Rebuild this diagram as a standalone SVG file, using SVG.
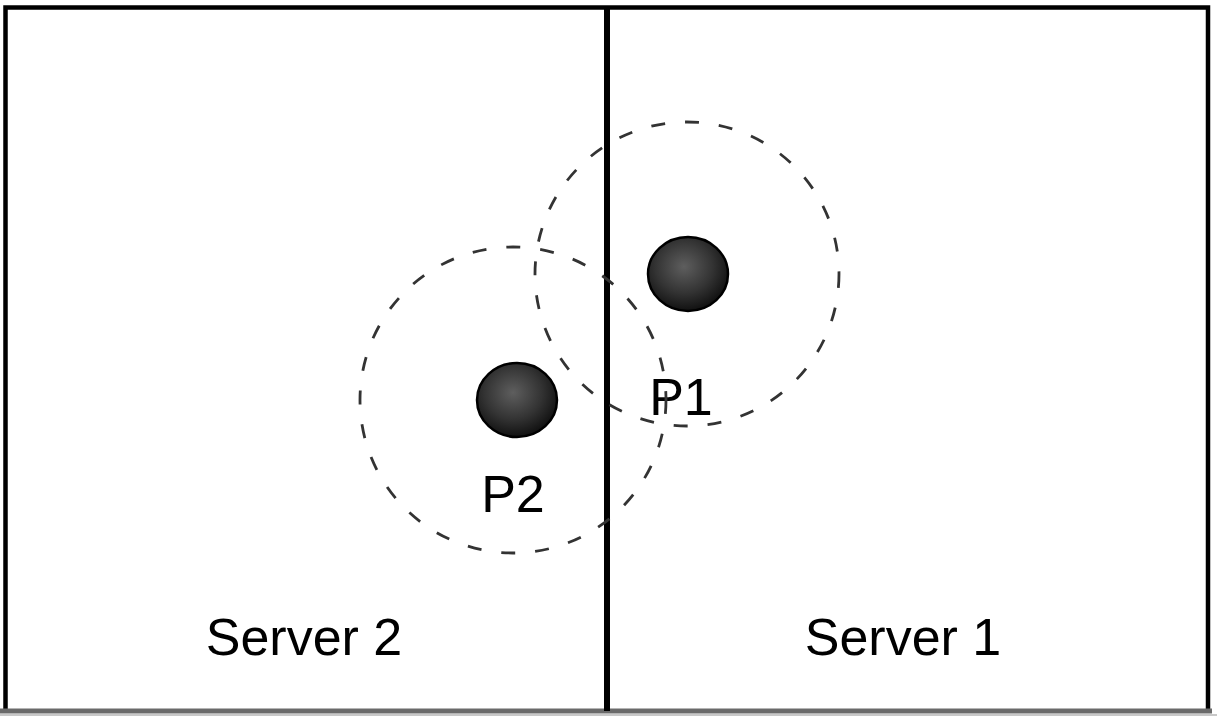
<svg xmlns="http://www.w3.org/2000/svg" width="1217" height="725" viewBox="0 0 1217 725">
  <defs>
    <radialGradient id="ball" cx="45%" cy="40%" r="60%">
      <stop offset="0" stop-color="#5e5e5e"/>
      <stop offset="0.6" stop-color="#333"/>
      <stop offset="1" stop-color="#111"/>
    </radialGradient>
  </defs>
  <style>
    .border { stroke: #000; stroke-width: 4.5; fill: none; }
    .divider { stroke: #000; stroke-width: 6; }
    .range { fill: none; stroke: #333; stroke-width: 2.8; stroke-dasharray: 14 20; }
    .dot { fill: url(#ball); stroke: #000; stroke-width: 2.5; }
    .label { font-family: "Liberation Sans", Arial, sans-serif; font-size: 52px; fill: #000; text-anchor: middle; }
  </style>
  <rect x="0" y="0" width="1217" height="725" fill="#fff"/>
  <g id="frame">
    <polyline class="border" points="5.5,711 5.5,7.5 1208,7.5 1208,711"/>
    <line x1="0" y1="711" x2="1212" y2="711" stroke="#6a6a6a" stroke-width="5"/>
    <line x1="0" y1="715" x2="1217" y2="715" stroke="#c8c8c8" stroke-width="2"/>
  </g>
  <g id="divider">
    <line class="divider" x1="607" y1="6" x2="607" y2="711"/>
  </g>
  <g id="server2">
    <text class="label" x="304" y="655">Server 2</text>
  </g>
  <g id="server1">
    <text class="label" x="903" y="655">Server 1</text>
  </g>
  <g id="connectors"></g>
  <g id="p1">
    <circle class="range" cx="687" cy="274" r="152"/>
    <ellipse class="dot" cx="688" cy="274" rx="40" ry="37"/>
    <text class="label" x="681" y="415" fill="#111">P1</text>
  </g>
  <g id="p2">
    <circle class="range" cx="513" cy="400" r="153"/>
    <ellipse class="dot" cx="517" cy="400" rx="40" ry="37"/>
    <text class="label" x="513" y="512">P2</text>
  </g>
</svg>
